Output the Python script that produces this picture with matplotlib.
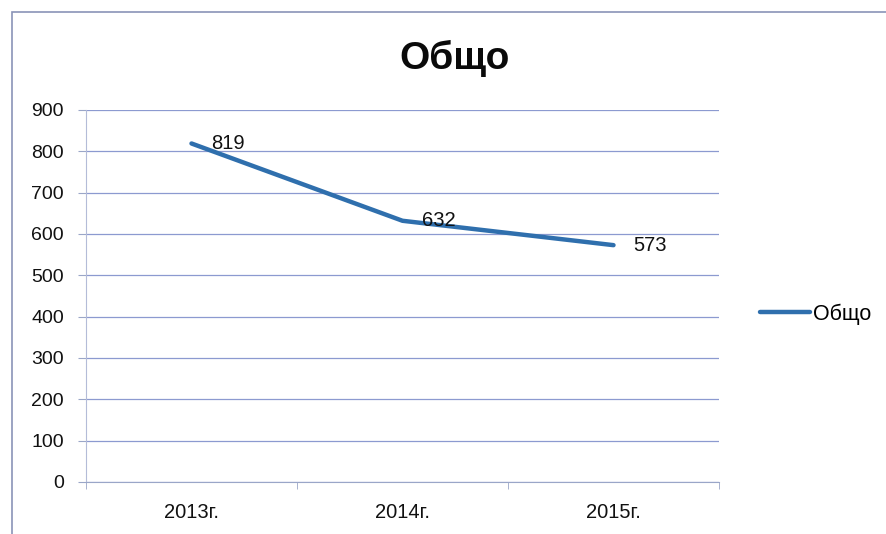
import numpy as np
import matplotlib.pyplot as plt
from matplotlib.patches import Rectangle

years = ["2013г.", "2014г.", "2015г."]
totals = [819, 632, 573]
series_name = "Общо"
y_ticks = list(range(0, 1000, 100))

plt.rcParams["font.family"] = ["Liberation Sans", "DejaVu Sans"]

fig = plt.figure(figsize=(8.86, 5.34), dpi=100)
fig.patch.set_facecolor("white")

# outer chart border (scanned frame)
fig.add_artist(Rectangle((12 / 886, -0.01), 1.0, 1 - 12 / 534 + 0.01,
                         transform=fig.transFigure, fill=False,
                         edgecolor="#8a93b8", linewidth=1.2))

ax = fig.add_axes([86 / 886, 52 / 534, (719 - 86) / 886, (482 - 110) / 534])

x = np.arange(len(years))
line, = ax.plot(x, totals, color="#2f6fad", linewidth=3.2,
                solid_capstyle="round", label=series_name)

for xi, v in zip(x, totals):
    ax.annotate(str(v), (xi, v), xytext=(14, 0), textcoords="offset points",
                ha="left", va="center", fontsize=14.5, color="#111111")

ax.set_xlim(-0.5, len(years) - 0.5)
ax.set_ylim(0, 900)
ax.set_yticks(y_ticks)
ax.set_xticks(x)
ax.set_xticklabels(years)
ax.set_xticks(np.arange(-0.5, len(years)), minor=True)

ax.tick_params(axis="x", which="major", length=0, pad=15, labelsize=14.5,
               colors="#111111")
ax.tick_params(axis="x", which="minor", length=5, color="#9aa6c8")
ax.tick_params(axis="y", length=6, color="#9aa6c8", pad=10, labelsize=14,
               labelcolor="#111111")

ax.grid(axis="y", color="#8c9ad0", linewidth=0.9)
ax.set_axisbelow(True)
for side in ["top", "right"]:
    ax.spines[side].set_visible(False)
ax.spines["left"].set_color("#b4bcd8")
ax.spines["bottom"].set_color("#9aa6c8")

fig.text(455 / 886, 1 - 58 / 534, "Общо", ha="center", va="center",
         fontsize=28, fontweight="bold", color="#0a0a0a")

fig.legend(handles=[line], loc="center left",
           bbox_to_anchor=(741 / 886, 1 - 314 / 534), frameon=False,
           fontsize=15.5, handlelength=2.3, handletextpad=0.15)

fig.savefig("out.png", dpi=100)
